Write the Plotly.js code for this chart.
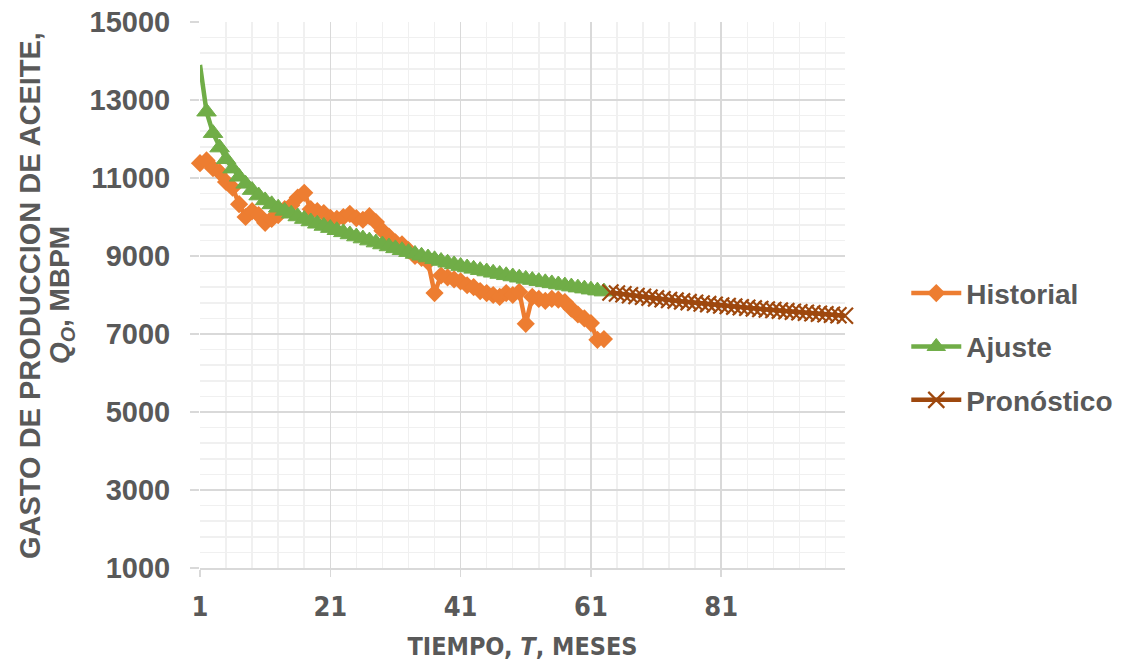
<!DOCTYPE html>
<html>
<head>
<meta charset="utf-8">
<script src="https://cdn.plot.ly/plotly-3.0.1.min.js"></script>
<style>
  html, body { margin: 0; padding: 0; background: #ffffff; }
  #chart { width: 1144px; height: 668px; }
</style>
</head>
<body>
<div id="chart"></div>
<script>
// ---- Data ----
const histMonths = [1,2,3,4,5,6,7,8,9,10,11,12,13,14,15,16,17,18,19,20,21,22,23,24,25,26,27,28,29,30,31,32,33,34,35,36,37,38,39,40,41,42,43,44,45,46,47,48,49,50,51,52,53,54,55,56,57,58,59,60,61,62,63];
const histValues = [11380,11450,11250,11150,10900,10750,10330,10000,10150,10050,9850,9950,10050,10200,10300,10500,10620,10200,10150,10100,9980,9950,10000,10080,9970,9930,10020,9870,9650,9500,9350,9300,9150,9000,8950,8850,8050,8500,8450,8400,8350,8250,8200,8100,8050,8000,7950,8050,8000,8080,7260,7950,7900,7850,7900,7880,7820,7650,7500,7400,7280,6850,6870];

const fitMonths = [1,2,3,4,5,6,7,8,9,10,11,12,13,14,15,16,17,18,19,20,21,22,23,24,25,26,27,28,29,30,31,32,33,34,35,36,37,38,39,40,41,42,43,44,45,46,47,48,49,50,51,52,53,54,55,56,57,58,59,60,61,62,63];
const fitValues = [13900,12700,12150,11780,11480,11240,11030,10850,10690,10550,10425,10325,10237,10157,10083,10013,9947,9885,9826,9769,9715,9660,9606,9552,9499,9447,9395,9344,9294,9244,9195,9147,9099,9052,9006,8960,8915,8871,8827,8784,8741,8705,8670,8636,8602,8569,8537,8505,8474,8443,8413,8383,8354,8325,8297,8269,8242,8215,8189,8163,8137,8112,8087];

const forecastMonths = [64,65,66,67,68,69,70,71,72,73,74,75,76,77,78,79,80,81,82,83,84,85,86,87,88,89,90,91,92,93,94,95,96,97,98,99,100];
const forecastValues = [8062,8039,8017,7995,7974,7953,7933,7913,7893,7874,7855,7836,7818,7800,7783,7766,7749,7733,7717,7702,7687,7672,7657,7642,7628,7614,7600,7586,7572,7558,7545,7532,7519,7506,7493,7480,7467];

const xTickVals = [1,21,41,61,81];
const xTickText = ['1','21','41','61','81'];
const yTickVals = [1000,3000,5000,7000,9000,11000,13000,15000];
const yTickText = ['1000','3000','5000','7000','9000','11000','13000','15000'];

const seriesNames = ['Historial','Ajuste','Pronóstico'];

// ---- Styles ----
const TXT = '#595959';
const BOLD = 'Liberation Sans, Arial, sans-serif';
const NARROW = 'DejaVu Sans Condensed, Liberation Sans Narrow, Arial Narrow, sans-serif';

// hide the marker of the first fitted point (reference shows only the line spike)
const fitMarkerSizes = fitMonths.map((m, i) => i === 0 ? 0 : 17);

const traces = [
  {
    x: histMonths, y: histValues, name: seriesNames[0], type: 'scatter', mode: 'lines+markers',
    line: {color: '#ED7D31', width: 4.5},
    marker: {symbol: 'diamond', size: 14, color: '#ED7D31', opacity: 1},
    cliponaxis: false, legendgroup: 'a'
  },
  {
    x: fitMonths, y: fitValues, name: seriesNames[1], type: 'scatter', mode: 'lines+markers',
    line: {color: '#70AD47', width: 4.5},
    marker: {symbol: 'triangle-up', size: fitMarkerSizes, color: '#70AD47', opacity: 1,
             line: {color: '#70AD47', width: 1}},
    cliponaxis: false, legendgroup: 'b'
  },
  {
    x: forecastMonths, y: forecastValues, name: seriesNames[2], type: 'scatter', mode: 'lines+markers',
    line: {color: '#9E480E', width: 4.5},
    marker: {symbol: 'x-thin', size: 16, color: '#9E480E', opacity: 1, line: {color: '#9E480E', width: 2.2}},
    cliponaxis: false, legendgroup: 'c'
  }
];

const layout = {
  width: 1144, height: 668,
  margin: {l: 200, r: 299, t: 22, b: 100},
  paper_bgcolor: '#ffffff', plot_bgcolor: '#ffffff',
  showlegend: true,
  font: {family: BOLD, color: TXT},
  xaxis: {
    range: [1, 100],
    tickmode: 'array', tickvals: xTickVals, ticktext: xTickText,
    showgrid: true, gridcolor: '#d9d9d9', gridwidth: 1.5,
    minor: {tick0: 1, dtick: 4, showgrid: true, gridcolor: '#f0f0f0', gridwidth: 1.5},
    showline: true, linecolor: '#d9d9d9', linewidth: 1.5,
    ticks: 'outside', ticklen: 7, tickcolor: '#d9d9d9', tickwidth: 1.5,
    zeroline: false,
    tickfont: {family: NARROW, size: 27, color: TXT, weight: 'bold'},
    ticklabelstandoff: 7,
    title: {text: 'TIEMPO, <i>T</i>, MESES', font: {family: NARROW, size: 25, color: TXT, weight: 'bold'}, standoff: 16}
  },
  yaxis: {
    range: [1000, 15000],
    tickmode: 'array', tickvals: yTickVals, ticktext: yTickText,
    showgrid: true, gridcolor: '#d9d9d9', gridwidth: 1.5,
    minor: {tick0: 1000, dtick: 400, showgrid: true, gridcolor: '#f0f0f0', gridwidth: 1.5},
    showline: false, zeroline: false,
    ticks: 'outside', ticklen: 9, tickcolor: '#d9d9d9', tickwidth: 1.5,
    tickfont: {family: BOLD, size: 29, color: TXT, weight: 'bold'},
    ticklabelstandoff: 14
  },
  legend: {
    x: 1.095, xanchor: 'left', y: 0.405, yanchor: 'middle',
    font: {family: BOLD, size: 28, color: TXT, weight: 'bold'},
    traceorder: 'grouped', tracegroupgap: 14,
    itemwidth: 50, bgcolor: 'rgba(0,0,0,0)'
  },
  annotations: [
    {
      text: 'GASTO DE PRODUCCION DE ACEITE,', textangle: -90,
      xref: 'paper', yref: 'paper', x: -0.2636, y: 0.5, xanchor: 'center', yanchor: 'middle',
      showarrow: false, font: {family: BOLD, size: 29, color: TXT, weight: 'bold'}
    },
    {
      text: '<i>Q<sub>O</sub></i>, MBPM', textangle: -90,
      xref: 'paper', yref: 'paper', x: -0.2155, y: 0.5, xanchor: 'center', yanchor: 'middle',
      showarrow: false, font: {family: BOLD, size: 28, color: TXT, weight: 'bold'}
    }
  ]
};

Plotly.newPlot('chart', traces, layout, {displayModeBar: false, staticPlot: true});
</script>
</body>
</html>
